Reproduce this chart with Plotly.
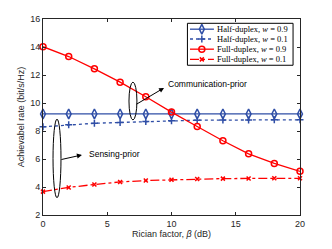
import plotly.graph_objects as go

beta = [0, 2, 4, 6, 8, 10, 12, 14, 16, 18, 20]
hd_w09 = [9.22, 9.22, 9.22, 9.22, 9.22, 9.22, 9.22, 9.22, 9.22, 9.22, 9.22]
hd_w01 = [8.30, 8.44, 8.55, 8.61, 8.67, 8.74, 8.77, 8.78, 8.79, 8.80, 8.80]
fd_w09 = [14.02, 13.32, 12.44, 11.49, 10.45, 9.35, 8.32, 7.30, 6.37, 5.68, 5.12]
fd_w01 = [3.67, 3.97, 4.18, 4.36, 4.46, 4.52, 4.57, 4.60, 4.61, 4.62, 4.62]

legend_names = ["Half-duplex, <i>w</i> = 0.9", "Half-duplex, <i>w</i> = 0.1",
                "Full-duplex, <i>w</i> = 0.9", "Full-duplex, <i>w</i> = 0.1"]

BLUE = "#2F4EA6"
RED = "#FF0000"

styles = [
    dict(color=BLUE, dash="solid", symbol="diamond-tall-open", size=7),
    dict(color=BLUE, dash="dot", symbol="cross-thin-open", size=5),
    dict(color=RED, dash="solid", symbol="circle-open", size=6),
    dict(color=RED, dash="dashdot", symbol="x-thin-open", size=4),
]
series = [hd_w09, hd_w01, fd_w09, fd_w01]

fig = go.Figure()
for ys, st, nm in zip(series, styles, legend_names):
    fig.add_trace(go.Scatter(
        x=beta, y=ys, mode="lines+markers", name=nm, showlegend=False,
        cliponaxis=False,
        line=dict(color=st["color"], width=1.3, dash=st["dash"]),
        marker=dict(symbol=st["symbol"], size=st["size"], color=st["color"],
                    line=dict(color=st["color"], width=1.5)),
    ))

# manual compact legend on an overlay axis (0..1 coordinates over the plot area)
row_y = [0.948, 0.898, 0.846, 0.794]
for ry, st, nm in zip(row_y, styles, legend_names):
    fig.add_trace(go.Scatter(
        x=[0.572, 0.665], y=[ry, ry], mode="lines", xaxis="x2", yaxis="y2",
        showlegend=False, hoverinfo="skip",
        line=dict(color=st["color"], width=1.3, dash=st["dash"]),
    ))
    fig.add_trace(go.Scatter(
        x=[0.618], y=[ry], mode="markers", xaxis="x2", yaxis="y2",
        showlegend=False, hoverinfo="skip",
        marker=dict(symbol=st["symbol"], size=st["size"], color=st["color"],
                    line=dict(color=st["color"], width=1.5)),
    ))
    fig.add_annotation(x=0.670, y=ry, xref="x2", yref="y2", text=nm,
                       showarrow=False, xanchor="left", yanchor="middle",
                       font=dict(family="Liberation Serif", size=8.5, color="#000"))

fig.add_shape(type="rect", xref="paper", yref="paper", x0=0.562, x1=0.973,
              y0=0.764, y1=0.978, line=dict(color="#000", width=1),
              fillcolor="rgba(255,255,255,1)", layer="below")

# ellipses
fig.add_shape(type="circle", xref="x", yref="y", x0=6.69, x1=7.31, y0=8.79, y1=11.49,
              line=dict(color="#000", width=1))
fig.add_shape(type="circle", xref="x", yref="y", x0=0.78, x1=1.40, y0=3.23, y1=8.85,
              line=dict(color="#000", width=1))

# arrows
fig.add_annotation(x=9.42, y=11.08, ax=7.16, ay=9.85, xref="x", yref="y",
                   axref="x", ayref="y", text="", showarrow=True,
                   arrowhead=2, arrowsize=1, arrowwidth=1, arrowcolor="#000")
fig.add_annotation(x=3.03, y=6.29, ax=1.32, ay=5.94, xref="x", yref="y",
                   axref="x", ayref="y", text="", showarrow=True,
                   arrowhead=2, arrowsize=1, arrowwidth=1, arrowcolor="#000")
fig.add_annotation(x=9.57, y=11.35, xref="x", yref="y", text="Communication-prior",
                   showarrow=False, xanchor="left", yanchor="middle",
                   font=dict(family="Liberation Sans", size=8.5, color="#000"))
fig.add_annotation(x=3.42, y=6.35, xref="x", yref="y", text="Sensing-prior",
                   showarrow=False, xanchor="left", yanchor="middle",
                   font=dict(family="Liberation Sans", size=8.5, color="#000"))

axis_common = dict(showgrid=False, zeroline=False, showline=True, linecolor="#262626",
                   linewidth=1, mirror="ticks", ticks="inside", ticklen=3,
                   tickcolor="#262626",
                   tickfont=dict(family="Liberation Sans", size=9, color="#262626"))

fig.update_layout(
    width=332, height=249,
    margin=dict(l=43, r=32, t=19, b=28),
    paper_bgcolor="white", plot_bgcolor="white",
    showlegend=False,
    xaxis=dict(range=[0, 20], tickvals=[0, 5, 10, 15, 20],
               title=dict(text="Rician factor, <i>β</i> (dB)", standoff=2,
                          font=dict(family="Liberation Sans", size=9, color="#262626")),
               **axis_common),
    yaxis=dict(range=[2, 16], tickvals=[2, 4, 6, 8, 10, 12, 14, 16],
               title=dict(text="Achievabel rate (bit/s/Hz)", standoff=4,
                          font=dict(family="Liberation Sans", size=9, color="#262626")),
               **axis_common),
    xaxis2=dict(range=[0, 1], overlaying="x", visible=False, fixedrange=True),
    yaxis2=dict(range=[0, 1], overlaying="y", visible=False, fixedrange=True),
)

fig.write_html("out.html", config={"displayModeBar": False},
               post_script="document.body.style.margin='0';")
